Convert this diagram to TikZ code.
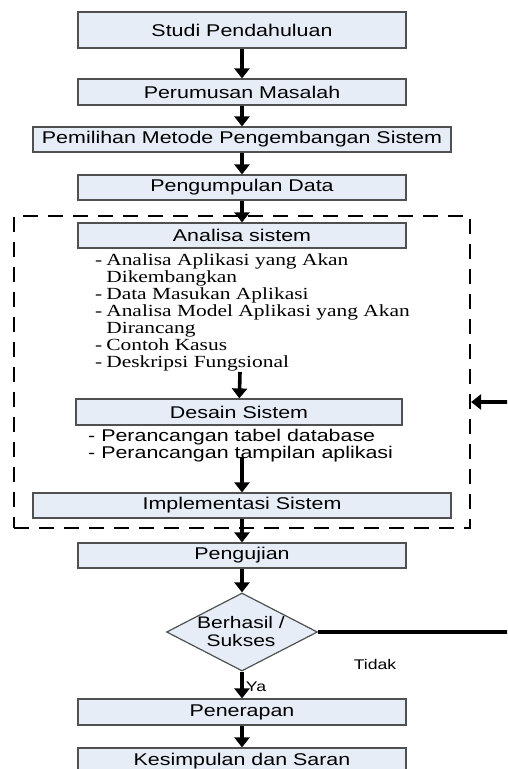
\documentclass[tikz,border=0pt]{standalone}
\usepackage{fontspec}
\usetikzlibrary{arrows.meta,shapes.geometric}
% Wide sans and serif faces used in the flowchart
\newfontfamily\boxfont[FakeStretch=1.26]{Liberation Sans}
\newfontfamily\listfont[FakeStretch=1.26]{Liberation Serif}
\definecolor{boxfill}{RGB}{230,237,247}
\definecolor{boxline}{RGB}{80,80,80}
\begin{document}
\begin{tikzpicture}[x=1pt,y=-1pt,
  stepbox/.style={draw=boxline,line width=1.2pt,fill=boxfill,rectangle,inner sep=0pt,
    minimum height=25pt,font=\boxfont\fontsize{17}{17}\selectfont},
  narrow/.style={stepbox,minimum width=328pt},
  wide/.style={stepbox,minimum width=418pt},
  arr/.style={line width=3.6pt,-{Triangle[width=15pt,length=10pt]}},
  note/.style={inner sep=0pt,anchor=north west,align=left},
]
\useasboundingbox (0,0) rectangle (507,769);
\clip (0,0) rectangle (507,769);

% dashed frame around analysis, design and implementation
\node[draw,line width=2.2pt,dash pattern=on 15pt off 10pt,minimum width=456pt,minimum height=312pt,
  inner sep=0pt] (loopbox) at (242,372) {};

% main process steps
\node[narrow,minimum height=36pt] (studi) at (242,30) {Studi Pendahuluan};
\node[narrow,minimum height=26pt] (rumus) at (242,92) {Perumusan Masalah};
\node[wide] (metode) at (242,139.5) {Pemilihan Metode Pengembangan Sistem};
\node[narrow] (data) at (242,187.5) {Pengumpulan Data};
\node[narrow] (analisa) at (242,235.5) {Analisa sistem};

\node[note,font=\listfont\fontsize{17}{17}\selectfont] (alist) at (95,253) {%
  \begin{tabular}{@{}l@{\hspace{4pt}}l@{}}
  - & Analisa Aplikasi yang Akan\\
    & Dikembangkan\\
  - & Data Masukan Aplikasi\\
  - & Analisa Model Aplikasi yang Akan\\
    & Dirancang\\
  - & Contoh Kasus\\
  - & Deskripsi Fungsional
  \end{tabular}};

\node[stepbox,minimum width=326pt,minimum height=26pt] (desain) at (239,412) {Desain Sistem};

\node[note,font=\boxfont\fontsize{17}{17}\selectfont] (dlist) at (88,429) {%
  - Perancangan tabel database\\
  - Perancangan tampilan aplikasi};

\node[wide] (impl) at (242,505.5) {Implementasi Sistem};
\node[narrow] (uji) at (242,555.5) {Pengujian};

% decision
\node[draw=boxline,line width=1.2pt,fill=boxfill,diamond,minimum width=151pt,minimum height=78pt,
  inner sep=0pt] (dec) at (242,632) {};
\node[align=center,inner sep=0pt,font=\boxfont\fontsize{16.7}{18}\selectfont] (declabel) at (241,632)
  {Berhasil /\\Sukses};

\node[narrow,minimum height=26pt] (terap) at (242,712) {Penerapan};
\node[narrow,minimum height=26pt] (simpul) at (242,761) {Kesimpulan dan Saran};

% connectors
\coordinate (alistend) at (240,372);
\coordinate (dlistend) at (242,457);
\coordinate (ret) at (520,402);

\draw[arr] (studi) -- (rumus);
\draw[arr] (rumus) -- (metode);
\draw[arr] (metode) -- (data);
\draw[arr] (data) -- (analisa);
\draw[arr] (alistend) -- (desain);
\draw[arr] (dlistend) -- (impl.north);
\draw[arr] (impl) -- (uji);
\draw[arr] (uji) -- (dec);
\draw[arr] (dec) -- node[right=2pt,pos=0.55,inner sep=0pt,font=\boxfont\fontsize{14}{14}\selectfont] (ya) {Ya} (terap);
\draw[arr] (terap) -- (simpul);
\draw[arr] (dec.east) -| (ret) -- (loopbox.east |- ret);

\node[font=\boxfont\fontsize{14}{14}\selectfont,inner sep=0pt] (tidak) at (375,664) {Tidak};
\end{tikzpicture}
\end{document}
